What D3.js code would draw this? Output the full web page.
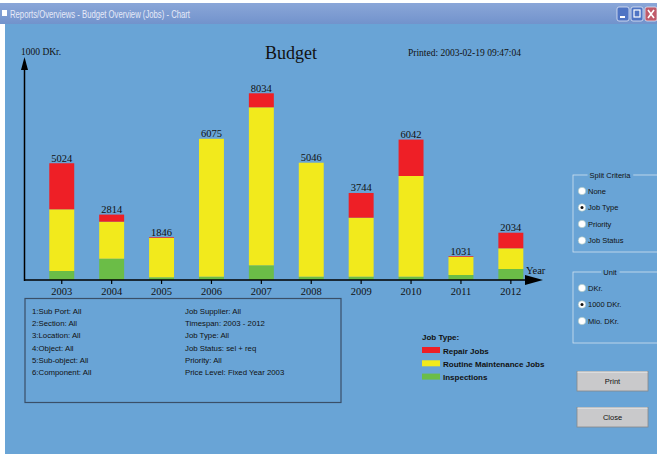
<!DOCTYPE html>
<html>
<head>
<meta charset="utf-8">
<script src="https://cdn.jsdelivr.net/npm/d3@7"></script>
<style>
  html, body { margin: 0; padding: 0; background: #fff; }
  svg { display: block; }
</style>
</head>
<body>
<svg id="chart"></svg>
<script>
// data (1000 DKr.)
var years = ['2003', '2004', '2005', '2006', '2007', '2008', '2009', '2010', '2011', '2012'];
var inspections = [387, 917, 116, 142, 632, 142, 142, 142, 215, 473];
var routine = [2655, 1592, 1700, 5933, 6799, 4904, 2539, 4333, 786, 891];
var repair = [1982, 305, 30, 0, 603, 0, 1063, 1567, 30, 670];

var seriesKeys = ['inspections', 'routine', 'repair'];
var seriesColors = { repair: '#ee1f26', routine: '#f2ea1c', inspections: '#6bbd47' };
var legendItems = [
    { key: 'repair', label: 'Repair Jobs' },
    { key: 'routine', label: 'Routine Maintenance Jobs' },
    { key: 'inspections', label: 'Inspections' }
];

var infoLeft = ['1:Sub Port: All', '2:Section: All', '3:Location: All', '4:Object: All', '5:Sub-object: All', '6:Component: All'];
var infoRight = ['Job Supplier: All', 'Timespan: 2003 - 2012', 'Job Type: All', 'Job Status: sel + req', 'Priority: All', 'Price Level: Fixed Year 2003'];
var splitOptions = ['None', 'Job Type', 'Priority', 'Job Status'];
var unitOptions = ['DKr.', '1000 DKr.', 'Mio. DKr.'];

var W = 657, H = 454;
var serif = '"Liberation Serif", "DejaVu Serif", serif';
var sans = '"Liberation Sans", Arial, sans-serif';
var bg = '#69a4d6';

var svg = d3.select('#chart').attr('width', W).attr('height', H);

// window frame
svg.append('rect').attr('x', 0).attr('y', 0).attr('width', W).attr('height', H).attr('fill', '#ffffff');
svg.append('rect').attr('x', 5).attr('y', 3).attr('width', W - 5).attr('height', H - 3).attr('fill', bg);

var grad = svg.append('defs').append('linearGradient')
    .attr('id', 'tbar').attr('x1', 0).attr('y1', 0).attr('x2', 0).attr('y2', 1);
grad.append('stop').attr('offset', '0%').attr('stop-color', '#8aa6d8');
grad.append('stop').attr('offset', '100%').attr('stop-color', '#7293cc');
svg.append('rect').attr('x', 0).attr('y', 3).attr('width', W).attr('height', 21).attr('fill', 'url(#tbar)');
svg.append('rect').attr('x', 2).attr('y', 10).attr('width', 5).attr('height', 6).attr('fill', '#fff');
svg.append('text').attr('x', 10).attr('y', 17.5)
    .attr('textLength', 180).attr('lengthAdjust', 'spacingAndGlyphs')
    .style('font-family', sans).style('font-size', '10px').attr('fill', '#e6eaf8')
    .text('Reports/Overviews - Budget Overview (Jobs)   - Chart');

// min / max / close buttons
[{ x: 617, c: '#4f74c4' }, { x: 631, c: '#4f74c4' }, { x: 645, c: '#c05a6a' }].forEach(function(b, i) {
    svg.append('rect').attr('x', b.x).attr('y', 7).attr('width', 12).attr('height', 14).attr('rx', 2)
        .attr('fill', b.c).attr('stroke', '#dfe6f5').attr('stroke-width', 0.8);
    if (i === 0) svg.append('rect').attr('x', b.x + 3).attr('y', 16).attr('width', 5).attr('height', 2).attr('fill', '#fff');
    if (i === 1) svg.append('rect').attr('x', b.x + 3).attr('y', 10).attr('width', 6).attr('height', 7)
        .attr('fill', 'none').attr('stroke', '#fff').attr('stroke-width', 1.2);
    if (i === 2) svg.append('path').attr('d', 'M' + (b.x + 3) + ',10 L' + (b.x + 9) + ',18 M' + (b.x + 9) + ',10 L' + (b.x + 3) + ',18')
        .attr('stroke', '#fff').attr('stroke-width', 1.6);
});

// scales
var baseY = 280, axisX = 24.5;
var x = d3.scaleBand().domain(years).range([36.8, 535.8]).paddingInner(0.5).paddingOuter(0.25);
var y = d3.scaleLinear().domain([0, 9552]).range([baseY, 58]);

var table = years.map(function(yr, i) {
    return { year: yr, inspections: inspections[i], routine: routine[i], repair: repair[i] };
});
var stacked = d3.stack().keys(seriesKeys)(table);

var g = svg.append('g');

g.selectAll('.layer')
    .data(stacked)
    .enter().append('g')
    .attr('class', 'layer')
    .attr('fill', function(d) { return seriesColors[d.key]; })
    .selectAll('rect')
    .data(function(d) { return d; })
    .enter().append('rect')
    .attr('x', function(d) { return x(d.data.year); })
    .attr('width', x.bandwidth())
    .attr('y', function(d) { return y(d[1]); })
    .attr('height', function(d) { return y(d[0]) - y(d[1]); });

// totals above bars
g.selectAll('.total')
    .data(table)
    .enter().append('text')
    .attr('class', 'total')
    .attr('x', function(d) { return x(d.year) + x.bandwidth() / 2; })
    .attr('y', function(d) { return y(d.inspections + d.routine + d.repair) - 1.5; })
    .attr('text-anchor', 'middle')
    .style('font-family', serif).style('font-size', '10.5px').attr('fill', '#111')
    .text(function(d) { return d.inspections + d.routine + d.repair; });

// axes
g.append('line').attr('x1', axisX).attr('x2', axisX).attr('y1', baseY + 1).attr('y2', 66)
    .attr('stroke', '#000').attr('stroke-width', 1.5);
g.append('path').attr('d', 'M' + (axisX - 3.5) + ',70 L' + axisX + ',57 L' + (axisX + 3.5) + ',70 Z').attr('fill', '#000');
g.append('line').attr('x1', axisX).attr('x2', 530).attr('y1', baseY).attr('y2', baseY)
    .attr('stroke', '#000').attr('stroke-width', 1.5);
g.append('path').attr('d', 'M525,' + (baseY - 5) + ' L543,' + baseY + ' L525,' + (baseY + 5) + ' Z').attr('fill', '#000');

var xAxis = g.append('g').attr('transform', 'translate(0,' + baseY + ')')
    .call(d3.axisBottom(x).tickSize(4).tickPadding(4));
xAxis.select('.domain').remove();
xAxis.selectAll('line').attr('stroke', '#000').attr('stroke-width', 1.2);
xAxis.selectAll('text').style('font-family', serif).style('font-size', '10.5px').attr('fill', '#111');

g.append('text').attr('x', 21).attr('y', 55).style('font-family', serif).style('font-size', '9.5px').attr('fill', '#111').text('1000 DKr.');
g.append('text').attr('x', 526).attr('y', 274).style('font-family', serif).style('font-size', '10.5px').attr('fill', '#111').text('Year');
g.append('text').attr('x', 291).attr('y', 59).attr('text-anchor', 'middle')
    .style('font-family', serif).style('font-size', '18px').attr('fill', '#111').text('Budget');
g.append('text').attr('x', 408).attr('y', 56)
    .style('font-family', serif).style('font-size', '9.5px').attr('fill', '#111').text('Printed: 2003-02-19 09:47:04');

// info box
svg.append('rect').attr('x', 25).attr('y', 298.5).attr('width', 316).attr('height', 104)
    .attr('fill', 'none').attr('stroke', '#3a4f68').attr('stroke-width', 1.2);
infoLeft.forEach(function(t, i) {
    svg.append('text').attr('x', 32).attr('y', 314 + i * 12.2)
        .style('font-family', sans).style('font-size', '7.8px').attr('fill', '#111').text(t);
});
infoRight.forEach(function(t, i) {
    svg.append('text').attr('x', 185).attr('y', 314 + i * 12.2)
        .style('font-family', sans).style('font-size', '7.8px').attr('fill', '#111').text(t);
});

// legend
svg.append('text').attr('x', 422).attr('y', 340)
    .style('font-family', sans).style('font-size', '8px').style('font-weight', 'bold').attr('fill', '#111').text('Job Type:');
legendItems.forEach(function(d, i) {
    svg.append('rect').attr('x', 422).attr('y', 347 + i * 13.3).attr('width', 18).attr('height', 6)
        .attr('fill', seriesColors[d.key]);
    svg.append('text').attr('x', 443).attr('y', 353.5 + i * 13.3)
        .style('font-family', sans).style('font-size', '8px').style('font-weight', 'bold').attr('fill', '#111').text(d.label);
});

// option groups
function groupBox(top, bottom, title, options, selected) {
    svg.append('rect').attr('x', 573).attr('y', top).attr('width', 90).attr('height', bottom - top)
        .attr('fill', 'none').attr('stroke', '#cfe0f0').attr('stroke-width', 0.8);
    var gap = svg.append('rect').attr('y', top - 1).attr('height', 2).attr('fill', bg);
    var t = svg.append('text').attr('x', 610).attr('y', top + 3).attr('text-anchor', 'middle')
        .style('font-family', sans).style('font-size', '7.5px').attr('fill', '#111').text(title);
    var bb = t.node().getBBox();
    gap.attr('x', bb.x - 2).attr('width', bb.width + 4);
    options.forEach(function(o, i) {
        var cy = top + 16 + i * 16.5;
        svg.append('circle').attr('cx', 582).attr('cy', cy).attr('r', 3.8)
            .attr('fill', '#fff').attr('stroke', '#9bb').attr('stroke-width', 0.6);
        if (o === selected) svg.append('circle').attr('cx', 582).attr('cy', cy).attr('r', 1.5).attr('fill', '#111');
        svg.append('text').attr('x', 588).attr('y', cy + 2.7)
            .style('font-family', sans).style('font-size', '7.5px').attr('fill', '#111').text(o);
    });
}
groupBox(175, 252, 'Split Criteria', splitOptions, 'Job Type');
groupBox(272, 343, 'Unit', unitOptions, '1000 DKr.');

// buttons
[{ y: 371.5, label: 'Print' }, { y: 407.5, label: 'Close' }].forEach(function(b) {
    svg.append('rect').attr('x', 577).attr('y', b.y).attr('width', 71).attr('height', 19.5)
        .attr('fill', '#c9c9cb').attr('stroke', '#888').attr('stroke-width', 0.8);
    svg.append('line').attr('x1', 577.5).attr('x2', 647.5).attr('y1', b.y + 0.5).attr('y2', b.y + 0.5).attr('stroke', '#f0f0f0');
    svg.append('text').attr('x', 612.5).attr('y', b.y + 12.7).attr('text-anchor', 'middle')
        .style('font-family', sans).style('font-size', '7.5px').attr('fill', '#111').text(b.label);
});
</script>
</body>
</html>
